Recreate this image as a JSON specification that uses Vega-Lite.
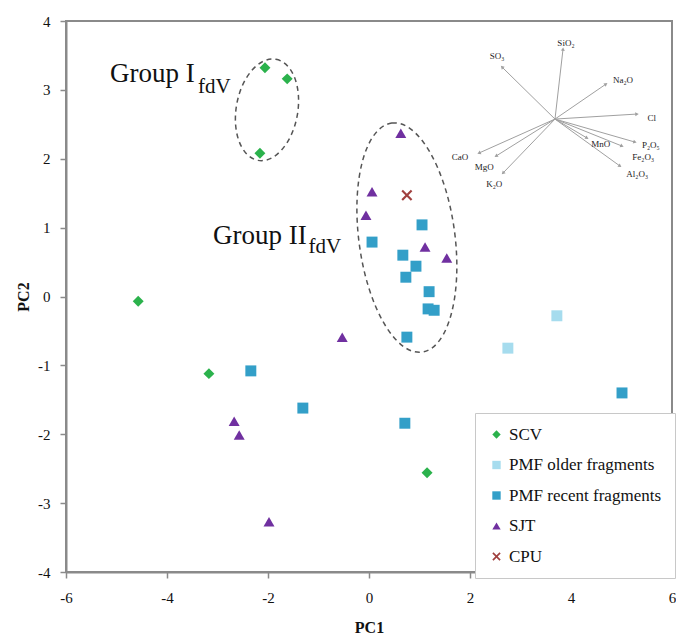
{
  "$schema": "https://vega.github.io/schema/vega-lite/v6.json",
  "width": 606,
  "height": 551,
  "autosize": {"type": "none"},
  "padding": {"left": 66, "top": 21, "right": 4, "bottom": 67},
  "background": "white",
  "datasets": {
    "points": [
      {"group": "SCV", "x": -4.57, "y": -0.07},
      {"group": "SCV", "x": -3.17, "y": -1.12},
      {"group": "SCV", "x": -2.06, "y": 3.32},
      {"group": "SCV", "x": -1.62, "y": 3.16},
      {"group": "SCV", "x": -2.16, "y": 2.08},
      {"group": "SCV", "x": 1.15, "y": -2.56},
      {"group": "PMF older fragments", "x": 2.75, "y": -0.75},
      {"group": "PMF older fragments", "x": 3.72, "y": -0.28},
      {"group": "PMF recent fragments", "x": -2.34, "y": -1.08},
      {"group": "PMF recent fragments", "x": -1.31, "y": -1.62},
      {"group": "PMF recent fragments", "x": 0.06, "y": 0.79},
      {"group": "PMF recent fragments", "x": 0.67, "y": 0.6},
      {"group": "PMF recent fragments", "x": 0.93, "y": 0.44},
      {"group": "PMF recent fragments", "x": 0.73, "y": 0.28},
      {"group": "PMF recent fragments", "x": 1.05, "y": 1.04},
      {"group": "PMF recent fragments", "x": 1.19, "y": 0.07},
      {"group": "PMF recent fragments", "x": 1.17, "y": -0.18},
      {"group": "PMF recent fragments", "x": 1.29, "y": -0.2},
      {"group": "PMF recent fragments", "x": 0.75, "y": -0.59},
      {"group": "PMF recent fragments", "x": 0.71, "y": -1.84},
      {"group": "PMF recent fragments", "x": 5.01, "y": -1.4},
      {"group": "SJT", "x": 0.63, "y": 2.37},
      {"group": "SJT", "x": 0.06, "y": 1.52},
      {"group": "SJT", "x": -0.06, "y": 1.18},
      {"group": "SJT", "x": 1.11, "y": 0.72},
      {"group": "SJT", "x": 1.54, "y": 0.56},
      {"group": "SJT", "x": -0.53, "y": -0.59},
      {"group": "SJT", "x": -2.67, "y": -1.81},
      {"group": "SJT", "x": -2.57, "y": -2.01},
      {"group": "SJT", "x": -1.98, "y": -3.27},
      {"group": "CPU", "x": 0.75, "y": 1.47}
    ],
    "loadings": [
      {"v": "SO₃", "x": 3.683, "y": 2.576, "tx": 2.634, "ty": 3.331, "lx": 2.535, "ly": 3.49},
      {"v": "SiO₂", "x": 3.683, "y": 2.576, "tx": 3.842, "ty": 3.592, "lx": 3.9, "ly": 3.68},
      {"v": "Na₂O", "x": 3.683, "y": 2.576, "tx": 4.693, "ty": 3.084, "lx": 5.03, "ly": 3.14},
      {"v": "Cl", "x": 3.683, "y": 2.576, "tx": 5.307, "ty": 2.649, "lx": 5.6, "ly": 2.59},
      {"v": "P₂O₅", "x": 3.683, "y": 2.576, "tx": 5.267, "ty": 2.242, "lx": 5.58, "ly": 2.2},
      {"v": "Fe₂O₃", "x": 3.683, "y": 2.576, "tx": 5.01, "ty": 2.184, "lx": 5.43, "ly": 2.02},
      {"v": "MnO", "x": 3.683, "y": 2.576, "tx": 4.317, "ty": 2.301, "lx": 4.59, "ly": 2.21},
      {"v": "Al₂O₃", "x": 3.683, "y": 2.576, "tx": 4.97, "ty": 1.894, "lx": 5.31, "ly": 1.78},
      {"v": "CaO", "x": 3.683, "y": 2.576, "tx": 2.178, "ty": 2.083, "lx": 1.8, "ly": 2.02},
      {"v": "MgO", "x": 3.683, "y": 2.576, "tx": 2.515, "ty": 2.039, "lx": 2.28, "ly": 1.88},
      {"v": "K₂O", "x": 3.683, "y": 2.576, "tx": 2.653, "ty": 1.792, "lx": 2.48, "ly": 1.63}
    ],
    "groups": [
      {"g": "I", "x": -2.02, "y": 2.71},
      {"g": "II", "x": 0.75, "y": 0.855}
    ],
    "glabels": [
      {"t": "Group I", "k": "main", "x": -5.13, "y": 3.113},
      {"t": "fdV", "k": "sub", "x": -3.386, "y": 2.954},
      {"t": "Group II", "k": "main", "x": -3.089, "y": 0.762},
      {"t": "fdV", "k": "sub", "x": -1.2, "y": 0.627}
    ]
  },
  "encoding": {
    "x": {"field": "x", "type": "quantitative", "title": "PC1", "scale": {"domain": [-6, 6], "nice": false, "zero": false}, "axis": {"values": [-6, -4, -2, 0, 2, 4, 6]}},
    "y": {"field": "y", "type": "quantitative", "title": "PC2", "scale": {"domain": [-4, 4], "nice": false, "zero": false}, "axis": {"values": [-4, -3, -2, -1, 0, 1, 2, 3, 4]}}
  },
  "layer": [
    {
      "mark": {"type": "rule", "color": "#b5b5b5", "strokeWidth": 1.5},
      "encoding": {"x": {"datum": 0, "type": "quantitative", "title": "PC1"}, "y": null}
    },
    {
      "mark": {"type": "rule", "color": "#b5b5b5", "strokeWidth": 1.5},
      "encoding": {"y": {"datum": 0, "type": "quantitative", "title": "PC2"}, "x": null}
    },
    {
      "data": {"name": "groups"},
      "transform": [{"filter": "datum.g === 'I'"}],
      "mark": {"type": "point", "filled": false, "shape": "M0,-1C0.331,-1 0.6,-0.552 0.6,0C0.6,0.552 0.331,1 0,1C-0.331,1 -0.6,0.552 -0.6,0C-0.6,-0.552 -0.331,-1 0,-1Z", "size": 10527, "angle": 10, "stroke": "#555", "strokeWidth": 1.5, "strokeDash": [5, 4], "opacity": 1}
    },
    {
      "data": {"name": "groups"},
      "transform": [{"filter": "datum.g === 'II'"}],
      "mark": {"type": "point", "filled": false, "shape": "M0,-1C0.23,-1 0.416,-0.552 0.416,0C0.416,0.552 0.23,1 0,1C-0.23,1 -0.416,0.552 -0.416,0C-0.416,-0.552 -0.23,-1 0,-1Z", "size": 53361, "angle": -7.5, "stroke": "#555", "strokeWidth": 1.5, "strokeDash": [5, 4], "opacity": 1}
    },
    {
      "data": {"name": "loadings"},
      "mark": {"type": "rule", "color": "#a0a0a0", "strokeWidth": 1},
      "encoding": {"x2": {"field": "tx"}, "y2": {"field": "ty"}}
    },
    {
      "data": {"name": "loadings"},
      "transform": [{"calculate": "atan2((datum.tx - datum.x) * 50.5, (datum.ty - datum.y) * 68.9) * 180 / PI", "as": "ang"}],
      "mark": {"type": "point", "shape": "triangle-up", "filled": true, "size": 16, "color": "#a0a0a0", "opacity": 1},
      "encoding": {
        "x": {"field": "tx", "type": "quantitative", "title": "PC1"},
        "y": {"field": "ty", "type": "quantitative", "title": "PC2"},
        "angle": {"field": "ang", "type": "quantitative", "scale": null}
      }
    },
    {
      "data": {"name": "loadings"},
      "mark": {"type": "text", "font": "Liberation Serif", "fontSize": 9, "fill": "#222", "align": "center", "baseline": "middle"},
      "encoding": {
        "x": {"field": "lx", "type": "quantitative", "title": "PC1"},
        "y": {"field": "ly", "type": "quantitative", "title": "PC2"},
        "text": {"field": "v"}
      }
    },
    {
      "data": {"name": "glabels"},
      "transform": [{"filter": "datum.k === 'main'"}],
      "mark": {"type": "text", "font": "Liberation Serif", "fontSize": 27, "fill": "#111", "align": "left", "baseline": "alphabetic"},
      "encoding": {"text": {"field": "t"}}
    },
    {
      "data": {"name": "glabels"},
      "transform": [{"filter": "datum.k === 'sub'"}],
      "mark": {"type": "text", "font": "Liberation Serif", "fontSize": 21, "fill": "#111", "align": "left", "baseline": "alphabetic"},
      "encoding": {"text": {"field": "t"}}
    },
    {
      "data": {"name": "points"},
      "mark": {"type": "point", "filled": true, "size": 120, "opacity": 1},
      "encoding": {
        "color": {"field": "group", "type": "nominal", "scale": {"domain": ["SCV", "PMF older fragments", "PMF recent fragments", "SJT", "CPU"], "range": ["#2bb24c", "#a6dcee", "#339fc8", "#7030a0", "#a0403f"]}, "legend": {"title": null}},
        "shape": {"field": "group", "type": "nominal", "scale": {"domain": ["SCV", "PMF older fragments", "PMF recent fragments", "SJT", "CPU"], "range": ["diamond", "square", "square", "triangle-up", "M-1,-0.72L-0.72,-1L0,-0.28L0.72,-1L1,-0.72L0.28,0L1,0.72L0.72,1L0,0.28L-0.72,1L-1,0.72L-0.28,0Z"]}, "legend": {"title": null}}
      }
    }
  ],
  "config": {
    "view": {"stroke": "#8a8a8a", "strokeWidth": 2},
    "axis": {
      "grid": false,
      "domainColor": "#8a8a8a",
      "domainWidth": 2,
      "tickColor": "#8a8a8a",
      "tickWidth": 1.5,
      "tickSize": 6,
      "labelFont": "Liberation Serif",
      "labelFontSize": 15,
      "labelColor": "#111",
      "labelExpr": "'' + datum.value",
      "titleFont": "Liberation Serif",
      "titleFontSize": 16,
      "titleFontWeight": "bold",
      "titleColor": "#111"
    },
    "axisX": {"labelPadding": 12, "titlePadding": 14, "labelFlush": false, "labelOverlap": false},
    "axisY": {"labelPadding": 10, "titlePadding": 6, "labelFlush": false, "labelOverlap": false},
    "legend": {
      "orient": "none",
      "legendX": 409,
      "legendY": 392,
      "strokeColor": "#c8c8c8",
      "fillColor": "white",
      "padding": 13,
      "labelFont": "Liberation Serif",
      "labelFontSize": 17,
      "labelColor": "#111",
      "symbolSize": 70,
      "symbolStrokeWidth": 0,
      "rowPadding": 12.5,
      "labelOffset": 4
    }
  }
}
